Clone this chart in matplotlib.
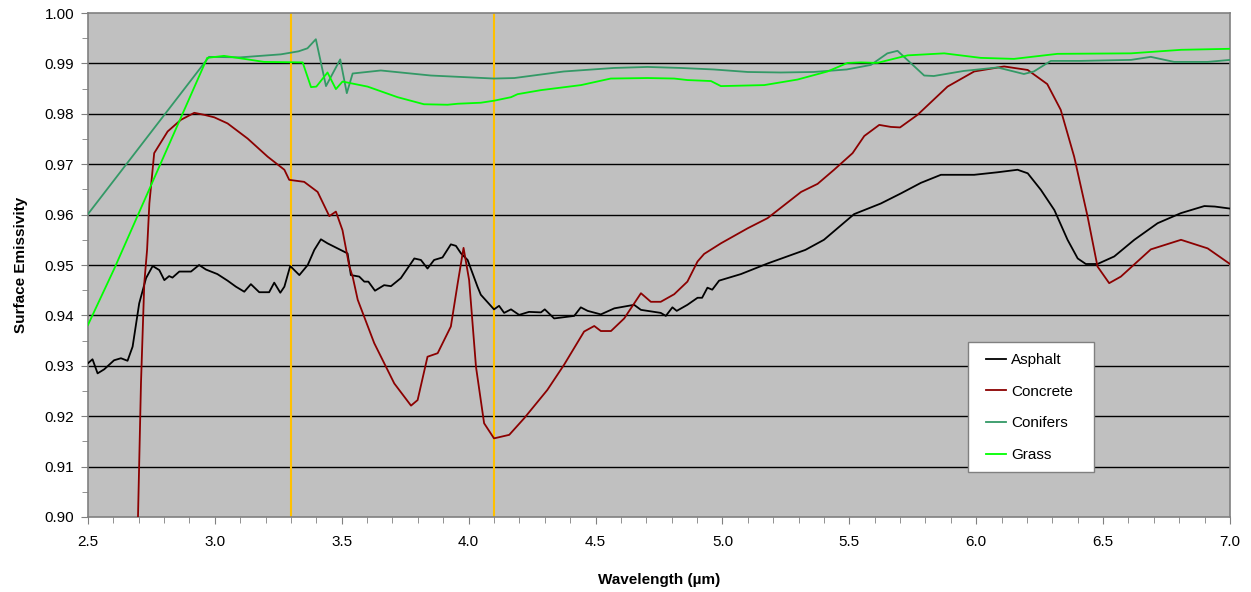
#!/usr/bin/env python
import numpy as np
import matplotlib
matplotlib.use('Agg')
import matplotlib.pyplot as plt
from matplotlib.patches import Rectangle
from matplotlib.ticker import MultipleLocator

plt.rcParams['font.family'] = ['Liberation Sans', 'DejaVu Sans']

# surface emissivity spectra
asphalt_x = [2.50, 2.518, 2.538, 2.564, 2.603, 2.63, 2.656, 2.676, 2.702, 2.729, 2.755, 2.781, 2.801, 2.82,
	2.833, 2.86, 2.906, 2.938, 2.965, 3.01, 3.05, 3.083, 3.116, 3.142, 3.175, 3.214, 3.234, 3.258, 3.274,
	3.297, 3.333, 3.366, 3.392, 3.418, 3.444, 3.523, 3.536, 3.569, 3.589, 3.605, 3.631, 3.667, 3.694,
	3.733, 3.786, 3.812, 3.838, 3.864, 3.897, 3.93, 3.95, 3.97, 3.996, 4.035, 4.048, 4.10, 4.12, 4.14,
	4.167, 4.199, 4.238, 4.285, 4.30, 4.337, 4.416, 4.442, 4.469, 4.521, 4.574, 4.652, 4.679, 4.757,
	4.777, 4.803, 4.82, 4.862, 4.902, 4.92, 4.941, 4.96, 4.987, 5.073, 5.178, 5.327, 5.40, 5.519, 5.624,
	5.703, 5.782, 5.861, 5.992, 6.084, 6.163, 6.203, 6.255, 6.308, 6.36, 6.40, 6.432, 6.478, 6.544,
	6.623, 6.715, 6.807, 6.899, 6.94, 7.0]
asphalt_y = [0.9305, 0.9313, 0.9285, 0.9293, 0.9311, 0.9315, 0.9310, 0.9338, 0.9424, 0.9474, 0.9498, 0.9490,
	0.9470, 0.9478, 0.9475, 0.9487, 0.9487, 0.9500, 0.9491, 0.9482, 0.9469, 0.9457, 0.9447, 0.9462, 0.9446,
	0.9446, 0.9465, 0.9445, 0.9457, 0.9498, 0.9480, 0.9500, 0.9530, 0.9551, 0.9543, 0.9523, 0.9480, 0.9477,
	0.9467, 0.9467, 0.9449, 0.9460, 0.9458, 0.9474, 0.9513, 0.9510, 0.9493, 0.9510, 0.9515, 0.9541, 0.9538,
	0.9523, 0.9510, 0.9457, 0.9441, 0.9412, 0.9419, 0.9405, 0.9412, 0.9401, 0.9407, 0.9406, 0.9412, 0.9394,
	0.9399, 0.9416, 0.9409, 0.9402, 0.9414, 0.9421, 0.9411, 0.9405, 0.9399, 0.9416, 0.9409, 0.9421, 0.9435,
	0.9435, 0.9455, 0.9451, 0.9469, 0.9482, 0.9503, 0.9530, 0.9550, 0.9601, 0.9622, 0.9642, 0.9663, 0.9679,
	0.9679, 0.9684, 0.9689, 0.9682, 0.9649, 0.9609, 0.9550, 0.9513, 0.9502, 0.9502, 0.9517, 0.9550, 0.9583,
	0.9603, 0.9617, 0.9616, 0.9612]

concrete_x = [2.695, 2.709, 2.722, 2.733, 2.742, 2.761, 2.814, 2.866, 2.919, 2.958, 2.998, 3.05, 3.129, 3.208,
	3.274, 3.293, 3.352, 3.405, 3.451, 3.477, 3.503, 3.53, 3.543, 3.563, 3.628, 3.707, 3.773, 3.799, 3.838,
	3.878, 3.93, 3.957, 3.98, 4.002, 4.029, 4.061, 4.10, 4.16, 4.219, 4.31, 4.376, 4.455, 4.495, 4.521,
	4.561, 4.613, 4.679, 4.718, 4.757, 4.81, 4.862, 4.902, 4.928, 4.994, 5.10, 5.178, 5.31, 5.375, 5.44,
	5.513, 5.559, 5.618, 5.664, 5.70, 5.769, 5.887, 5.992, 6.11, 6.203, 6.28, 6.333, 6.386, 6.439, 6.478,
	6.524, 6.57, 6.688, 6.807, 6.912, 7.0]
concrete_y = [0.8950, 0.9266, 0.9464, 0.9530, 0.9622, 0.9722, 0.9765, 0.9788, 0.9802, 0.9798, 0.9793, 0.9781,
	0.9751, 0.9715, 0.9689, 0.9669, 0.9665, 0.9645, 0.9597, 0.9606, 0.9569, 0.9497, 0.9477, 0.9431, 0.9345,
	0.9265, 0.9221, 0.9232, 0.9318, 0.9325, 0.9378, 0.9464, 0.9534, 0.9470, 0.9298, 0.9186, 0.9156, 0.9163,
	0.9196, 0.9252, 0.9302, 0.9368, 0.9379, 0.9369, 0.9369, 0.9394, 0.9444, 0.9427, 0.9427, 0.9442, 0.9467,
	0.9507, 0.9522, 0.9543, 0.9573, 0.9593, 0.9645, 0.9661, 0.9689, 0.9722, 0.9756, 0.9778, 0.9774, 0.9773,
	0.9798, 0.9854, 0.9884, 0.9894, 0.9887, 0.9859, 0.9808, 0.9715, 0.9596, 0.9497, 0.9464, 0.9477, 0.9531,
	0.9550, 0.9533, 0.9502]

conifers_x = [2.5, 2.977, 3.10, 3.26, 3.33, 3.365, 3.398, 3.438, 3.494, 3.52, 3.543, 3.654, 3.851, 4.10, 4.18,
	4.375, 4.573, 4.705, 4.836, 4.966, 5.10, 5.23, 5.36, 5.49, 5.585, 5.65, 5.69, 5.795, 5.833, 5.95,
	6.084, 6.188, 6.227, 6.294, 6.412, 6.61, 6.688, 6.78, 6.912, 7.0]
conifers_y = [0.9601, 0.9913, 0.9912, 0.9918, 0.9924, 0.9930, 0.9948, 0.9855, 0.9908, 0.9841, 0.9880, 0.9886,
	0.9876, 0.9870, 0.9871, 0.9884, 0.9891, 0.9893, 0.9891, 0.9888, 0.9883, 0.9882, 0.9883, 0.9888, 0.9897,
	0.9920, 0.9925, 0.9876, 0.9875, 0.9885, 0.9892, 0.9879, 0.9884, 0.9905, 0.9905, 0.9907, 0.9913, 0.9903,
	0.9903, 0.9907]

grass_x = [2.5, 2.604, 2.97, 3.036, 3.129, 3.194, 3.346, 3.379, 3.40, 3.444, 3.477, 3.503, 3.602, 3.72, 3.824,
	3.917, 3.957, 4.048, 4.10, 4.167, 4.193, 4.285, 4.443, 4.56, 4.705, 4.81, 4.862, 4.955, 4.994, 5.165,
	5.296, 5.414, 5.493, 5.546, 5.61, 5.73, 5.874, 6.018, 6.149, 6.32, 6.61, 6.807, 7.0]
grass_y = [0.9381, 0.9493, 0.9911, 0.9915, 0.9908, 0.9903, 0.9902, 0.9853, 0.9854, 0.9882, 0.9849, 0.9864,
	0.9854, 0.9833, 0.9819, 0.9818, 0.9820, 0.9822, 0.9826, 0.9833, 0.9839, 0.9847, 0.9857, 0.9870, 0.9871,
	0.9870, 0.9867, 0.9865, 0.9855, 0.9857, 0.9868, 0.9884, 0.9901, 0.9902, 0.9901, 0.9916, 0.9920, 0.9911,
	0.9909, 0.9919, 0.9920, 0.9927, 0.9929]

markers_x = [3.3, 4.1]

fig = plt.figure(figsize=(12.51, 5.92), dpi=100)
ax = fig.add_axes([0.0703, 0.1267, 0.9129, 0.8513])
ax.set_facecolor('#C0C0C0')

for y in np.arange(0.91, 1.0, 0.01):
	ax.axhline(y, color='black', lw=1.0, zorder=1)
for xv in markers_x:
	ax.axvline(xv, color='#FFC000', lw=1.5, zorder=2)

ax.plot(asphalt_x, asphalt_y, color='black', lw=1.3, label='Asphalt', zorder=3)
ax.plot(concrete_x, concrete_y, color='#8B0000', lw=1.3, label='Concrete', zorder=3)
ax.plot(conifers_x, conifers_y, color='#339966', lw=1.3, label='Conifers', zorder=3)
ax.plot(grass_x, grass_y, color='#00FF00', lw=1.3, label='Grass', zorder=3)

ax.set_xlim(2.5, 7.0)
ax.set_ylim(0.90, 1.00)
ax.xaxis.set_major_locator(MultipleLocator(0.5))
ax.xaxis.set_minor_locator(MultipleLocator(0.1))
ax.yaxis.set_major_locator(MultipleLocator(0.01))
ax.yaxis.set_minor_locator(MultipleLocator(0.005))
ax.set_xticklabels(['%.1f' % v for v in ax.get_xticks()])
ax.set_yticklabels(['%.2f' % v for v in ax.get_yticks()])
ax.tick_params(which='major', length=5, color='#808080', labelsize=11, pad=8)
ax.tick_params(which='minor', length=4, color='#808080')
ax.tick_params(axis='y', which='major', pad=5)
for s in ax.spines.values():
	s.set_color('#808080')
	s.set_linewidth(1.2)

ax.set_xlabel('Wavelength (\u00b5m)', fontsize=11, fontweight='bold', labelpad=17)
ax.set_ylabel('Surface Emissivity', fontsize=11, fontweight='bold', labelpad=12)

# white legend box, legend entries placed inside it
box = Rectangle((0.7706, 0.0893), 0.1103, 0.258, transform=ax.transAxes, facecolor='white',
	edgecolor='#808080', lw=1.0, zorder=5)
ax.add_patch(box)
leg = ax.legend(loc='upper left', bbox_to_anchor=(0.7863, 0.325), fontsize=11, frameon=False,
	labelspacing=1.15, borderpad=0, handlelength=1.3, handletextpad=0.35, borderaxespad=0)
leg.set_zorder(6)

plt.savefig('out.png', dpi=100)
